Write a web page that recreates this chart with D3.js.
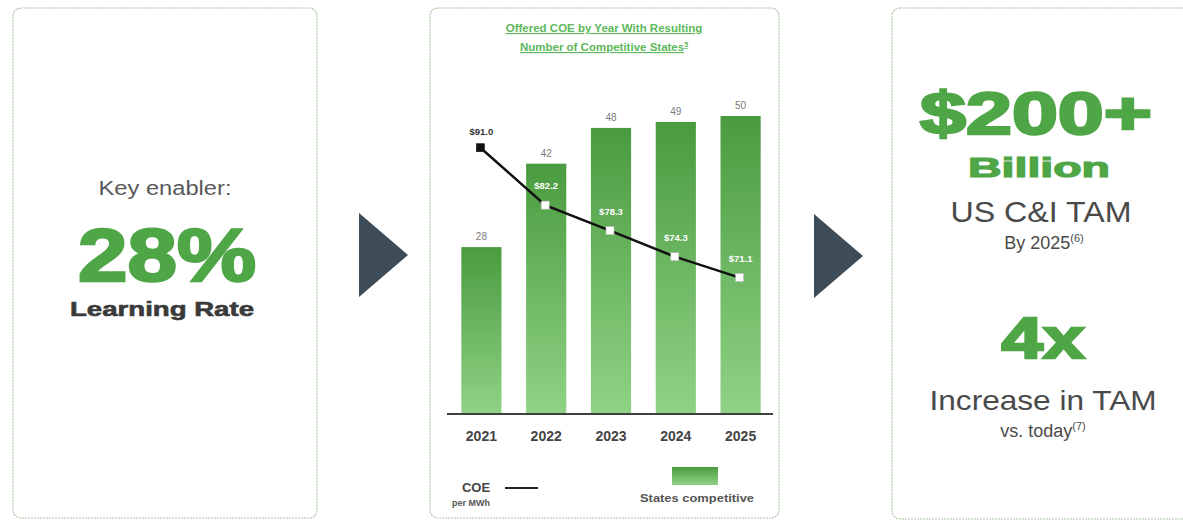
<!DOCTYPE html>
<html lang="en">
<head>
<meta charset="utf-8">
<script src="https://d3js.org/d3.v7.min.js"></script>
<style>
  body { margin: 0; background: #fff; }
  svg text { font-family: "Liberation Sans", Arial, sans-serif; }
  .panel { fill: #fff; stroke: #a9c7a3; stroke-width: 1.2; stroke-dasharray: 2,1; }
  .arrow { fill: #3e4c58; }
  .big { fill: #4fa647; font-weight: bold; stroke: #4fa647; }
  .grey { fill: #4a4a4a; }
</style>
</head>
<body>
<svg id="svg-container" width="1183" height="520"></svg>
<script>
// data
const years = ["2021", "2022", "2023", "2024", "2025"];
const statesCompetitive = [28, 42, 48, 49, 50];
const coePerMWh = [91.0, 82.2, 78.3, 74.3, 71.1];

const svg = d3.select("#svg-container");
const green = "#4fa647";

// gradient for bars
const defs = svg.append("defs");
const grad = defs.append("linearGradient")
  .attr("id", "barGrad").attr("x1", 0).attr("y1", 0).attr("x2", 0).attr("y2", 1);
grad.append("stop").attr("offset", "0%").attr("stop-color", "#4a9b3f");
grad.append("stop").attr("offset", "100%").attr("stop-color", "#90d286");

// panels
const panels = [
  {x: 13, y: 8, w: 304, h: 510},
  {x: 430, y: 8, w: 349, h: 510},
  {x: 892, y: 8, w: 310, h: 511}
];
svg.selectAll("rect.panel").data(panels).enter()
  .append("rect").attr("class", "panel")
  .attr("x", d => d.x).attr("y", d => d.y)
  .attr("width", d => d.w).attr("height", d => d.h)
  .attr("rx", 8);

// arrows
[[359, 213], [814, 214]].forEach(p => {
  svg.append("path").attr("class", "arrow")
    .attr("d", `M${p[0]},${p[1]} L${p[0] + 49},${p[1] + 42} L${p[0]},${p[1] + 84} Z`);
});

// left panel
const left = svg.append("g");
left.append("text").attr("x", 165).attr("y", 195).attr("text-anchor", "middle")
  .attr("font-size", 20).attr("fill", "#595959")
  .attr("textLength", 133).attr("lengthAdjust", "spacingAndGlyphs")
  .text("Key enabler:");
left.append("text").attr("class", "big").attr("x", 167).attr("y", 281).attr("text-anchor", "middle")
  .attr("font-size", 74).attr("stroke-width", 2.5)
  .attr("textLength", 178).attr("lengthAdjust", "spacingAndGlyphs")
  .text("28%");
left.append("text").attr("x", 162).attr("y", 316).attr("text-anchor", "middle")
  .attr("font-size", 20).attr("font-weight", "bold").attr("fill", "#3a3a3a")
  .attr("stroke", "#3a3a3a").attr("stroke-width", 0.6)
  .attr("textLength", 184).attr("lengthAdjust", "spacingAndGlyphs")
  .text("Learning Rate");

// middle chart
const chart = svg.append("g");
const baseY = 414;

const x = d3.scaleBand().domain(years).range([449, 773])
  .paddingInner(0.38).paddingOuter(0.19);
const y = d3.scaleLinear().domain([0, 50]).range([baseY, 116]);
const yCoe = d3.scaleLinear().domain([60, 100]).range([350, 89]);

// title
const title = chart.append("text").attr("x", 604).attr("text-anchor", "middle")
  .attr("font-size", 11.5).attr("font-weight", "bold").attr("fill", "#5cb85a")
  .attr("text-decoration", "underline");
title.append("tspan").attr("x", 604).attr("y", 32).text("Offered COE by Year With Resulting");
const t2 = title.append("tspan").attr("x", 604).attr("y", 51).text("Number of Competitive States");
title.append("tspan").attr("font-size", 7).attr("dy", -4).text("5");

// bars
chart.selectAll("rect.bar").data(statesCompetitive).enter()
  .append("rect").attr("class", "bar")
  .attr("x", (d, i) => x(years[i]))
  .attr("y", d => y(d))
  .attr("width", x.bandwidth())
  .attr("height", d => baseY - y(d))
  .attr("fill", "url(#barGrad)");

chart.selectAll("text.barlab").data(statesCompetitive).enter()
  .append("text").attr("class", "barlab")
  .attr("x", (d, i) => x(years[i]) + x.bandwidth() / 2)
  .attr("y", d => y(d) - 7)
  .attr("text-anchor", "middle").attr("font-size", 10).attr("fill", "#7a7a7a")
  .text(d => d);

// axis baseline + year labels
const xAxis = chart.append("g").attr("transform", `translate(0,${baseY})`)
  .call(d3.axisBottom(x).tickSize(0).tickPadding(17));
xAxis.select(".domain").attr("d", "M-2,0H326").attr("transform", "translate(447,0)")
  .attr("stroke", "#3f3f3f").attr("stroke-width", 2);
xAxis.select(".domain").attr("d", "M447,0H773").attr("transform", null);
xAxis.selectAll("text").attr("font-size", 14).attr("font-weight", "bold")
  .attr("fill", "#444").attr("font-family", "Liberation Sans, Arial, sans-serif");

// COE line
const cx = (d, i) => x(years[i]) + x.bandwidth() / 2 - 1;
const line = d3.line().x(cx).y(d => yCoe(d));
chart.append("path").datum(coePerMWh)
  .attr("d", line).attr("fill", "none")
  .attr("stroke", "#111").attr("stroke-width", 2.5);

chart.selectAll("rect.mk").data(coePerMWh).enter()
  .append("rect").attr("class", "mk")
  .attr("x", (d, i) => cx(d, i) - 4).attr("y", d => yCoe(d) - 4)
  .attr("width", 8).attr("height", 8)
  .attr("fill", (d, i) => i === 0 ? "#111" : "#fff")
  .attr("stroke", (d, i) => i === 0 ? "#111" : "#bbb").attr("stroke-width", 0.6);

chart.selectAll("text.coelab").data(coePerMWh).enter()
  .append("text").attr("class", "coelab")
  .attr("x", (d, i) => cx(d, i) + 1)
  .attr("y", (d, i) => yCoe(d) - (i === 0 ? 13 : 16))
  .attr("text-anchor", "middle").attr("font-size", 9.5).attr("font-weight", "bold")
  .attr("fill", (d, i) => i === 0 ? "#333" : "#fff")
  .text(d => "$" + d.toFixed(1));

// legend
chart.append("text").attr("x", 476).attr("y", 492).attr("text-anchor", "middle")
  .attr("font-size", 13).attr("font-weight", "bold").attr("fill", "#444").text("COE");
chart.append("line").attr("x1", 505).attr("x2", 538).attr("y1", 488).attr("y2", 488)
  .attr("stroke", "#222").attr("stroke-width", 2);
chart.append("text").attr("x", 471).attr("y", 506).attr("text-anchor", "middle")
  .attr("font-size", 9).attr("font-weight", "bold").attr("fill", "#555").text("per MWh");
chart.append("rect").attr("x", 672).attr("y", 467).attr("width", 46).attr("height", 18)
  .attr("fill", "url(#barGrad)");
chart.append("text").attr("x", 697).attr("y", 502).attr("text-anchor", "middle")
  .attr("font-size", 11).attr("font-weight", "bold").attr("fill", "#555")
  .attr("textLength", 114).attr("lengthAdjust", "spacingAndGlyphs")
  .text("States competitive");

// right panel
const right = svg.append("g");
right.append("text").attr("class", "big").attr("x", 1036).attr("y", 134).attr("text-anchor", "middle")
  .attr("font-size", 60).attr("stroke-width", 2.5)
  .attr("textLength", 232).attr("lengthAdjust", "spacingAndGlyphs")
  .text("$200+");
right.append("text").attr("class", "big").attr("x", 1039).attr("y", 177).attr("text-anchor", "middle")
  .attr("font-size", 28).attr("stroke-width", 1.2)
  .attr("textLength", 142).attr("lengthAdjust", "spacingAndGlyphs")
  .text("Billion");
right.append("text").attr("x", 1041).attr("y", 222).attr("text-anchor", "middle")
  .attr("font-size", 29).attr("fill", "#4a4a4a")
  .attr("textLength", 181).attr("lengthAdjust", "spacingAndGlyphs")
  .text("US C&I TAM");
const by = right.append("text").attr("x", 1044).attr("y", 249).attr("text-anchor", "middle")
  .attr("font-size", 18).attr("fill", "#4a4a4a");
by.append("tspan").text("By 2025");
by.append("tspan").attr("font-size", 11).attr("dy", -7).text("(6)");
right.append("text").attr("class", "big").attr("x", 1043).attr("y", 358).attr("text-anchor", "middle")
  .attr("font-size", 57).attr("stroke-width", 2.5)
  .attr("textLength", 83).attr("lengthAdjust", "spacingAndGlyphs")
  .text("4x");
right.append("text").attr("x", 1043).attr("y", 410).attr("text-anchor", "middle")
  .attr("font-size", 28).attr("fill", "#4a4a4a")
  .attr("textLength", 227).attr("lengthAdjust", "spacingAndGlyphs")
  .text("Increase in TAM");
const vs = right.append("text").attr("x", 1043).attr("y", 437).attr("text-anchor", "middle")
  .attr("font-size", 18).attr("fill", "#4a4a4a");
vs.append("tspan").text("vs. today");
vs.append("tspan").attr("font-size", 11).attr("dy", -7).text("(7)");
</script>
</body>
</html>
